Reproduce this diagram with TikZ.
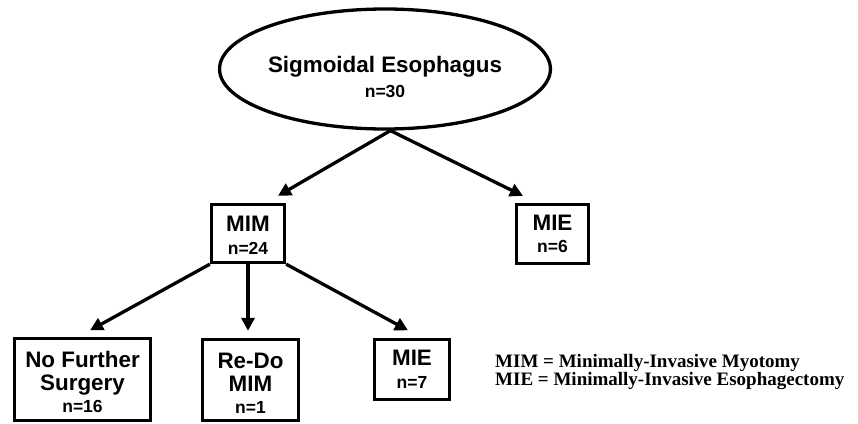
\documentclass[tikz,border=0pt]{standalone}
\usepackage{fontspec}
\setmainfont{Liberation Sans}
\newfontfamily\legendfont{Liberation Serif}
\usetikzlibrary{arrows.meta,calc,shapes.geometric}
\tikzset{
  bigtxt/.style={font=\bfseries\fontsize{22.4}{22.5}\selectfont, align=center, inner sep=0pt},
  boxnode/.style={bigtxt, draw, line width=3.3pt},
  flowarrow/.style={line width=3.3pt, -{Triangle[length=13pt,width=13pt]}},
}
\newcommand{\ntxt}[1]{{\fontsize{17.5}{22}\selectfont #1}}
\begin{document}
\begin{tikzpicture}[x=1pt,y=-1pt]
\useasboundingbox (0,0) rectangle (858,423);
\node[boxnode, ellipse, minimum width=262pt, minimum height=120pt] (sig) at (385,69)
  {\rule{0pt}{32pt}Sigmoidal Esophagus\\[2pt]\ntxt{n=30}};
\node[boxnode, minimum width=73pt, minimum height=58pt] (mim) at (248,233.5) {\rule{0pt}{19pt}MIM\\\ntxt{n=24}};
\node[boxnode, minimum width=72pt, minimum height=59pt] (mieA) at (552.5,234) {MIE\\\ntxt{n=6}};
\node[boxnode, minimum width=136pt, minimum height=82pt] (nfs) at (82.5,379.5) {\rule{0pt}{22pt}No Further\\Surgery\\\ntxt{n=16}};
\node[boxnode, minimum width=96pt, minimum height=81pt] (redo) at (250.5,380) {\rule{0pt}{22pt}Re-Do\\MIM\\\ntxt{n=1}};
\node[boxnode, minimum width=75pt, minimum height=60pt] (mieB) at (412,369.5) {MIE\\\ntxt{n=7}};
\node[anchor=base west, align=left, inner sep=0pt, font=\legendfont\bfseries\fontsize{19}{17.7}\selectfont] (legend) at (495,385)
  {MIM = Minimally-Invasive Myotomy\\MIE = Minimally-Invasive Esophagectomy};
\draw[flowarrow] (sig.-85) -- ($(mim.north)+(30,-7)$);
\draw[flowarrow] (sig.-85) -- ($(mieA.north)+(-29.5,-7)$);
\draw[flowarrow] (mim.south west) -- ($(nfs.north)+(7.5,-6.5)$);
\draw[flowarrow] (mim.south) -- ($(mim.south|-redo.north)+(0,-7)$);
\draw[flowarrow] (mim.south east) -- ($(mieB.north)+(-4,-7.5)$);
\end{tikzpicture}
\end{document}
